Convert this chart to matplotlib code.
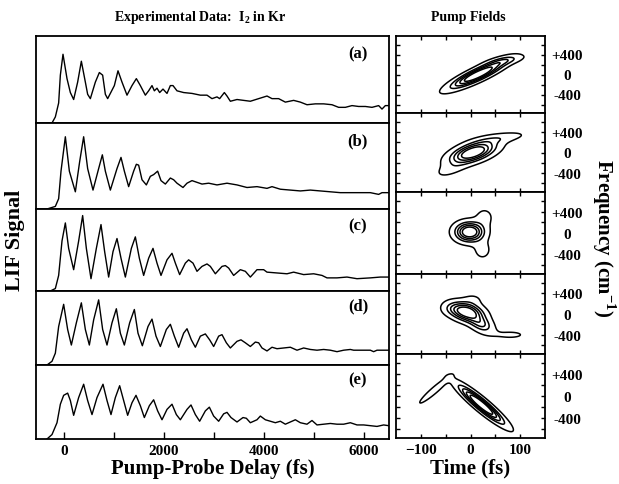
import numpy as np
import matplotlib
matplotlib.use('Agg')
import matplotlib.pyplot as plt
from matplotlib.ticker import FixedLocator

plt.rcParams['font.family'] = 'Liberation Serif'
plt.rcParams['font.weight'] = 'bold'
plt.rcParams['mathtext.fontset'] = 'custom'
plt.rcParams['mathtext.rm'] = 'Liberation Serif:bold'
plt.rcParams['mathtext.bf'] = 'Liberation Serif:bold'

# -----------------------------------------------------------
# DATOS: señal LIF, retardo en fs
# -----------------------------------------------------------
t_a = [-340, -240, -173, -107, -73, -20, 60, 127, 193, 273, 347, 427, 473, 527, 627, 707, 773, 827, 873,
       1007, 1080, 1160, 1260, 1360, 1447, 1527, 1627, 1693, 1760, 1807, 1860, 1913, 1980, 2060, 2127,
       2180, 2260, 2393, 2560, 2727, 2860, 2960, 3060, 3113, 3207, 3260, 3327, 3460, 3593, 3727, 3893,
       4060, 4160, 4293, 4427, 4593, 4727, 4860, 5027, 5193, 5360, 5493, 5627, 5760, 5893, 6027, 6160,
       6293, 6360, 6427, 6493]
s_a = [0, 0, 7, 23, 55, 79, 51, 35, 27, 47, 71, 47, 33, 28, 47, 58, 55, 33, 28,
       43, 60, 47, 32, 43, 51, 43, 32, 37, 43, 37, 40, 35, 39, 34, 43,
       43, 37, 35, 34, 32, 32, 28, 30, 28, 35, 31, 25, 27, 26, 25, 28,
       31, 28, 28, 24, 26, 24, 21, 22, 22, 21, 18, 18, 20, 19, 19, 18,
       20, 16, 20, 20]

t_b = [-340, -173, -107, -60, 27, 107, 227, 313, 393, 473, 580, 693, 767, 827, 927, 1060, 1140, 1207,
       1293, 1393, 1447, 1493, 1560, 1647, 1727, 1793, 1873, 1940, 2027, 2127, 2193, 2260, 2380, 2460,
       2560, 2660, 2760, 2893, 3060, 3260, 3460, 3660, 3860, 4060, 4160, 4327, 4527, 4727, 4927, 5127,
       5327, 5527, 5727, 5927, 6127, 6293, 6360, 6493]
s_b = [0, 3, 12, 44, 84, 44, 20, 55, 84, 47, 22, 47, 63, 44, 22, 47, 60, 44,
       26, 44, 52, 51, 34, 28, 38, 40, 44, 33, 29, 36, 34, 30, 25, 30,
       33, 31, 29, 30, 28, 30, 28, 25, 26, 24, 26, 23, 22, 21, 22, 21,
       20, 19, 19, 19, 19, 17, 19, 19]

t_c = [-273, -173, -107, -40, 27, 93, 193, 293, 373, 447, 540, 647, 740, 813, 893, 980, 1060, 1140,
       1227, 1347, 1427, 1507, 1593, 1693, 1780, 1860, 1940, 2060, 2160, 2227, 2313, 2427, 2493, 2580,
       2660, 2760, 2860, 2927, 3027, 3160, 3227, 3293, 3393, 3527, 3627, 3727, 3860, 3993, 4060, 4260,
       4460, 4593, 4793, 4993, 5160, 5260, 5460, 5660, 5860, 6127, 6327, 6493]
s_c = [0, 3, 19, 61, 83, 52, 26, 61, 92, 52, 15, 52, 81, 48, 17, 48, 64, 40,
       17, 52, 66, 40, 19, 40, 52, 34, 19, 38, 46, 34, 20, 34, 38, 34,
       24, 30, 33, 30, 21, 30, 31, 28, 19, 26, 24, 17, 26, 26, 23, 22,
       21, 23, 20, 21, 19, 16, 16, 17, 15, 16, 17, 17]

t_d = [-340, -240, -173, -107, -7, 73, 147, 247, 347, 427, 507, 593, 693, 773, 860, 960, 1047, 1127,
       1207, 1313, 1407, 1480, 1567, 1680, 1760, 1840, 1927, 2047, 2127, 2207, 2293, 2393, 2460, 2547,
       2627, 2727, 2827, 2913, 2993, 3093, 3160, 3247, 3327, 3460, 3540, 3627, 3727, 3827, 3893, 3960,
       4060, 4160, 4260, 4393, 4527, 4660, 4793, 4927, 5060, 5193, 5327, 5460, 5593, 5727, 5793, 6127,
       6193, 6260, 6493]
s_d = [0, 5, 16, 52, 82, 48, 27, 57, 84, 48, 27, 61, 88, 48, 27, 57, 76, 43,
       27, 57, 75, 43, 26, 52, 62, 39, 25, 48, 55, 39, 24, 43, 49, 34,
       24, 39, 42, 34, 25, 39, 41, 30, 23, 32, 34, 30, 25, 31, 30, 23,
       19, 24, 22, 23, 24, 20, 23, 21, 20, 21, 20, 18, 20, 21, 20, 20,
       18, 20, 20]

t_e = [-340, -240, -140, -73, -7, 73, 127, 193, 293, 393, 473, 560, 660, 780, 860, 940, 1027, 1113,
       1193, 1273, 1360, 1440, 1527, 1607, 1707, 1793, 1873, 1960, 2060, 2160, 2247, 2327, 2460, 2540,
       2627, 2713, 2827, 2907, 2993, 3093, 3193, 3260, 3340, 3460, 3580, 3647, 3727, 3860, 3927, 4027,
       4127, 4227, 4327, 4427, 4527, 4627, 4727, 4860, 4960, 5060, 5193, 5327, 5460, 5593, 5727, 5860,
       5993, 6127, 6260, 6393, 6493]
s_e = [0, 6, 22, 47, 59, 62, 52, 32, 56, 74, 52, 33, 56, 74, 52, 33, 56, 72,
       52, 32, 49, 59, 45, 29, 45, 53, 38, 26, 40, 47, 33, 26, 40, 46,
       33, 24, 38, 43, 31, 24, 34, 36, 29, 23, 29, 28, 22, 26, 31, 26,
       24, 22, 24, 20, 23, 26, 22, 20, 25, 19, 20, 21, 20, 20, 22, 19,
       19, 18, 17, 19, 18]

tiempos = [t_a, t_b, t_c, t_d, t_e]
senales = [s_a, s_b, s_c, s_d, s_e]
etiquetas = ['(a)', '(b)', '(c)', '(d)', '(e)']

# -----------------------------------------------------------
# DATOS: campos de bombeo (lóbulos gaussianos)
# cada lóbulo: t0 (fs), f0 (cm-1), sigma_t, sigma_f, rho, amplitud
# -----------------------------------------------------------
campo_a = [[15, 0, 36, 180, 0.88, 1.0], [70, 280, 25, 70, 0.6, 0.22]]
campo_b = [[5, 0, 30, 140, 0.55, 1.0], [60, 280, 35, 80, 0.6, 0.2], [-40, -330, 22, 110, 0.6, 0.15]]
campo_c = [[-2, 20, 19, 120, 0.0, 1.0], [28, 300, 13, 120, 0.0, 0.16], [24, -320, 13, 130, 0.0, 0.16]]
campo_d = [[-8, 40, 22, 120, -0.3, 1.0], [22, -200, 16, 110, -0.4, 0.45],
           [80, -400, 30, 70, 0.0, 0.13], [-40, 110, 14, 90, 0.0, 0.12], [5, 280, 14, 80, 0.0, 0.12]]
campo_e = [[22, -160, 30, 230, -0.93, 1.0], [-72, 110, 24, 190, 0.95, 0.22]]
campos = [campo_a, campo_b, campo_c, campo_d, campo_e]

niveles = [0.1, 0.3, 0.45, 0.6, 0.75]

# -----------------------------------------------------------
# FIGURA
# -----------------------------------------------------------
fig = plt.figure(figsize = (6.19, 4.85), dpi = 100)
H = 485.0
W = 619.0

izq_bordes = [37, 124, 210, 292, 366, 440]
der_bordes = [37, 114, 193, 275, 355, 439]

for i in range(5):
    # Panel izquierdo: señal LIF
    y0 = 1 - izq_bordes[i + 1] / H
    h = (izq_bordes[i + 1] - izq_bordes[i]) / H
    ax = fig.add_axes([36 / W, y0, 353 / W, h])
    ax.plot(tiempos[i], senales[i], color = 'black', linewidth = 1.0)
    ax.set_xlim(-560, 6500)
    ax.set_ylim(0, 100)
    ax.set_yticks([])
    ax.text(0.912, 0.80, etiquetas[i], transform = ax.transAxes, ha = 'center', va = 'center',
            fontsize = 12, fontweight = 'bold')
    for sp in ax.spines.values():
        sp.set_linewidth(1.3)
    if i < 4:
        ax.set_xticks([])
    else:
        ax.xaxis.set_major_locator(FixedLocator([0, 2000, 4000, 6000]))
        ax.xaxis.set_minor_locator(FixedLocator([1000, 3000, 5000]))
        ax.tick_params(axis = 'x', which = 'both', direction = 'in', length = 5, width = 1, labelsize = 11)
        ax.set_xlabel('Pump-Probe Delay (fs)', fontsize = 15, fontweight = 'bold', labelpad = 1)

    # Panel derecho: contornos del campo
    y0 = 1 - der_bordes[i + 1] / H
    h = (der_bordes[i + 1] - der_bordes[i]) / H
    ax2 = fig.add_axes([396 / W, y0, 149 / W, h])
    T, F = np.meshgrid(np.linspace(-150, 150, 301), np.linspace(-800, 800, 321))
    Z = np.zeros_like(T)
    for t0, f0, st, sf, rho, amp in campos[i]:
        x = (T - t0) / st
        y = (F - f0) / sf
        Z += amp * np.exp(-(x * x - 2 * rho * x * y + y * y) / (2 * (1 - rho ** 2)))
    Z = Z / Z.max()
    ax2.contour(T, F, Z, levels = niveles, colors = 'black', linewidths = 1.1)
    ax2.set_xlim(-150, 150)
    ax2.set_ylim(-770, 770)
    ax2.xaxis.set_major_locator(FixedLocator([-100, 0, 100]))
    ax2.xaxis.set_minor_locator(FixedLocator([-50, 50]))
    ax2.yaxis.set_major_locator(FixedLocator([-400, 0, 400]))
    ax2.yaxis.set_minor_locator(FixedLocator([-600, -200, 200, 600]))
    ax2.set_yticklabels(['-400', '0', '+400'])
    ax2.tick_params(axis = 'both', which = 'both', direction = 'in', length = 3, width = 1,
                    top = True, bottom = True, left = True, right = True,
                    labelleft = False, labelright = True, labelsize = 11)
    ax2.tick_params(axis = 'y', pad = 16)
    for lab in ax2.get_yticklabels():
        lab.set_horizontalalignment('center')
    for sp in ax2.spines.values():
        sp.set_linewidth(1.3)
    if i < 4:
        ax2.set_xticklabels([])
    else:
        ax2.set_xlabel('Time (fs)', fontsize = 15, fontweight = 'bold', labelpad = 1)

# Textos generales
fig.text(200 / W, 1 - 17 / H, r'Experimental Data:  I$_2$ in Kr', ha = 'center', va = 'center',
         fontsize = 10, fontweight = 'bold')
fig.text(468 / W, 1 - 18 / H, 'Pump Fields', ha = 'center', va = 'center', fontsize = 10, fontweight = 'bold')
fig.text(15 / W, 1 - 240 / H, 'LIF Signal', rotation = 90, ha = 'center', va = 'center',
         fontsize = 16, fontweight = 'bold')
fig.text(604 / W, 1 - 238 / H, r'Frequency (cm$^{-1}$)', rotation = 270, ha = 'center', va = 'center',
         fontsize = 15, fontweight = 'bold')

plt.savefig('out.png', dpi = 100)
